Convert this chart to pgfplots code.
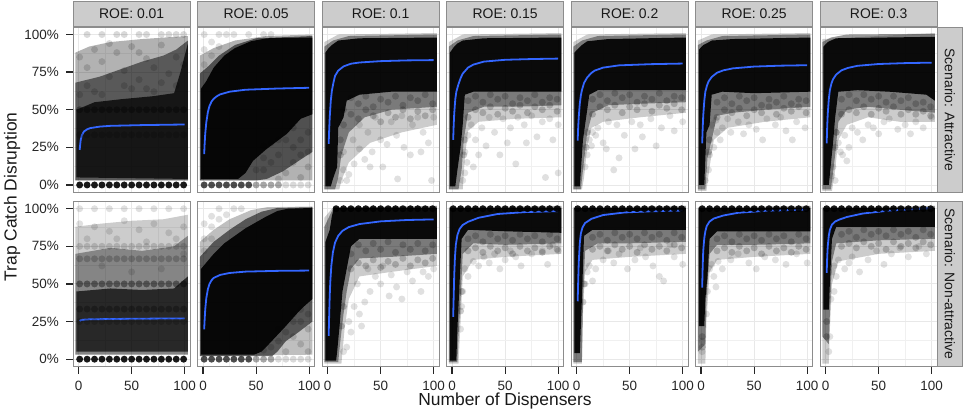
\documentclass[border=0pt]{standalone}
\usepackage{fontspec}
\setmainfont{Liberation Sans}
\setsansfont{Liberation Sans}
\usepackage{pgfplots}
\pgfplotsset{compat=1.18}
\definecolor{fitblue}{HTML}{3366FF}
\pgfplotsset{
  panel/.style={
    scale only axis, width=116.7bp, height=165.5bp,
    xmin=-5, xmax=105, ymin=-5, ymax=105,
    xtick={0,50,100}, ytick={0,25,50,75,100},
    minor xtick={25,75}, minor ytick={12.5,37.5,62.5,87.5},
    xmajorgrids, ymajorgrids, xminorgrids, yminorgrids,
    major grid style={draw=black!9, line width=0.9bp},
    minor grid style={draw=black!6, line width=0.6bp},
    minor tick length=0pt, major tick length=7bp, tick align=outside,
    major tick style={draw=black!85, line width=1.3bp},
    axis line style={draw=black!45, line width=0.9bp},
    xticklabels={}, yticklabels={},
    xmajorticks=false, ymajorticks=false,
    tick label style={font=\fontsize{13.5}{15}\selectfont, text=black!85},
    yticklabel style={xshift=-4bp},
    xticklabel style={yshift=-3.5bp},
    /pgf/number format/assume math mode=true,
    anchor=south west,
  },
  leftax/.style={ymajorticks=true, ytick pos=left, yticklabels={0\%,25\%,50\%,75\%,100\%}},
  bottomax/.style={xmajorticks=true, xtick pos=bottom, xticklabels={0,50,100}},
  L/.style={draw=none, fill=black, fill opacity=#1},
  P/.style={only marks, mark=*, mark size=3.5pt, draw opacity=0, mark options={draw opacity=0, fill=black, fill opacity=#1}},
  fit/.style={color=fitblue, line width=1.8bp, no marks, line join=round},
}
\tikzset{strip/.style={fill=black!20, draw=black!45, line width=0.9bp, inner sep=0pt, font=\fontsize{14}{16}\selectfont, text=black!90}}
\begin{document}
\begin{tikzpicture}
\useasboundingbox (0,0) rectangle (964bp,418bp);
% ---------------- Row 1: Attractive ----------------
\begin{axis}[panel, leftax, name=a1, at={(73.3bp,225.5bp)}]
\addplot[L=0.3] coordinates {(-3,3)(-3,88)(10,92)(30,95)(60,97)(103,99)(103,3)} -- cycle;
\addplot[L=0.5] coordinates {(-3,3)(-3,68)(20,72)(40,77)(60,82)(80,86)(92,90)(103,96)(103,3)} -- cycle;
\addplot[L=0.75] coordinates {(-2,5)(-2,50)(15,55)(40,57)(70,59)(90,61)(96,75)(103,94)(103,4)} -- cycle;
\addplot[P=0.15] coordinates {(1,85)(8,78)(15,90)(22,82)(29,72)(36,88)(43,76)(50,92)(57,70)(64,84)(71,78)(78,93)(85,74)(92,85)(99,80)(8,66)(29,94)(57,88)(78,68)(43,66)(15,62)(64,64)(1,60)(22,60)(50,64)(71,62)(92,66)};
\addplot[P=0.15] coordinates {(8,100)(22,100)(36,100)(43,100)(57,100)(64,100)(78,100)(85,100)(92,100)(99,100)};
\addplot[P=0.2] coordinates {(1,33.3)(8,33.3)(15,33.3)(22,33.3)(29,33.3)(36,33.3)(43,33.3)(50,33.3)(57,33.3)(64,33.3)(71,33.3)(78,33.3)(85,33.3)(92,33.3)(99,33.3)};
\addplot[P=0.35] coordinates {(1,50)(8,50)(15,50)(22,50)(29,50)(36,50)(43,50)(50,50)(57,50)(64,50)(71,50)(78,50)(85,50)(92,50)(99,50)};
\addplot[P=0.9] coordinates {(1,0)(8,0)(15,0)(22,0)(29,0)(36,0)(43,0)(50,0)(57,0)(64,0)(71,0)(78,0)(85,0)(92,0)(99,0)};
\addplot[fit] coordinates {(1,23.3)(1.5,27)(2,30)(3,33)(5,35.5)(8,37)(11,37.8)(20,38.8)(30,39.3)(60,39.8)(100,40.2)};
\end{axis}
\begin{axis}[panel, name=a2, at={(197.8bp,225.5bp)}]
\addplot[L=0.3] coordinates {(-3,3)(-3,86)(10,91)(30,96)(60,99)(103,100)(103,3)} -- cycle;
\addplot[L=0.55] coordinates {(-3,3)(-3,74)(5,79)(15,86)(30,93)(50,97.5)(103,99)(103,22)(90,16)(75,9)(60,4)(50,3)} -- cycle;
\addplot[L=0.92] coordinates {(-2,4)(-2,64)(3,69)(10,78)(20,86)(30,91)(45,95.5)(60,97.5)(103,98)(103,47)(92,44)(79,34)(60,24)(47,16)(40,8)(33,4)} -- cycle;
\addplot[P=0.15] coordinates {(57,10)(64,15)(71,20)(78,8)(85,25)(92,30)(99,12)(71,4)(85,15)(92,5)(64,28)(78,30)(99,35)(57,18)(50,10)(99,22)(92,20)(85,38)(71,30)(57,26)};
\addplot[P=0.12] coordinates {(1,90)(8,95)(15,100)(22,100)(29,100)(1,100)(8,86)(43,100)(57,100)(64,100)(1,80)(15,92)};
\addplot[P=0.7] coordinates {(1,0)(8,0)(15,0)(22,0)(29,0)(36,0)(43,0)};
\addplot[P=0.35] coordinates {(50,0)(57,0)(64,0)(71,0)};
\addplot[P=0.15] coordinates {(78,0)(85,0)(92,0)(99,0)};
\addplot[fit] coordinates {(1,20.5)(1.5,28)(2,34)(3,41.5)(4.5,48.5)(6,52.5)(8,55.5)(10,57.3)(13,59)(16,60.2)(25,62)(40,63.3)(70,64.1)(100,64.6)};
\end{axis}
\begin{axis}[panel, name=a3, at={(322.3bp,225.5bp)}]
\addplot[L=0.2] coordinates {(-3,-3)(-3,95)(10,100)(103,101)(103,40)(70,35)(40,28)(20,15)(13,3)(11,-3)} -- cycle;
\addplot[L=0.4] coordinates {(-3,-3)(-3,92)(5,96)(20,99)(103,100)(103,52)(60,50)(35,45)(20,35)(13,20)(10,5)(7,-3)} -- cycle;
\addplot[L=0.92] coordinates {(-2,-1)(-2,88)(1,91)(4,93)(10,96)(30,97.5)(103,98)(103,62)(60,62)(30,60)(18,56)(15,45)(10,38)(9,12)(5,4)(3,-1)} -- cycle;
\addplot[P=0.2] coordinates {(15,50)(22,58)(29,54)(36,59)(43,52)(50,57)(57,55)(64,59)(71,53)(78,58)(85,56)(92,60)(99,54)(15,40)(22,47)(29,44)(36,50)(43,46)(50,42)(57,48)(64,45)(71,50)(78,44)(85,49)(92,46)(99,50)(12,30)(12,20)};
\addplot[P=0.12] coordinates {(15,10)(20,7)(25,14)(15,22)(35,17)(42,22)(50,30)(56,27)(65,33)(72,25)(80,40)(90,35)(95,28)(100,45)(30,40)(45,45)(60,42)(85,45)(78,20)(66,4)(98,3)(24,30)(38,35)(52,12)(88,22)(12,3)(18,3)(30,24)(70,46)(40,12)};
\addplot[fit] coordinates {(1,27.3)(1.5,37)(2,45)(3,56)(4,62.5)(5.5,68)(7,72.5)(10,76)(15,78.8)(22,80.6)(30,81.4)(50,82.3)(75,82.8)(100,83)};
\end{axis}
\begin{axis}[panel, name=a4, at={(446.8bp,225.5bp)}]
\addplot[L=0.2] coordinates {(-3,-3)(-3,95)(10,100)(103,101)(103,45)(60,44)(25,42)(15,36)(12,18)(10,-3)} -- cycle;
\addplot[L=0.4] coordinates {(-3,-3)(-3,92)(5,96)(20,99)(103,100)(103,53)(60,52)(30,52)(15,48)(11,30)(9,10)(6,-3)} -- cycle;
\addplot[L=0.92] coordinates {(-2,-1)(-2,88)(2,92)(5,94)(10,96)(30,97.5)(103,98)(103,62)(50,62)(20,62)(12,60)(10,40)(8,25)(5,10)(3,-1)} -- cycle;
\addplot[P=0.2] coordinates {(15,56)(22,59)(29,55)(36,60)(43,57)(50,59)(57,54)(64,58)(71,56)(78,60)(85,55)(92,58)(99,57)(15,45)(22,50)(29,48)(36,52)(43,47)(50,51)(57,49)(64,53)(71,48)(78,52)(85,50)(92,53)(99,49)(12,30)(11,20)};
\addplot[P=0.12] coordinates {(15,33)(18,40)(22,30)(28,38)(35,45)(40,35)(48,44)(55,38)(62,45)(68,40)(75,46)(85,42)(92,44)(100,40)(12,22)(14,15)(20,12)(25,20)(45,20)(60,14)(70,28)(32,26)(80,32)(95,30)(52,28)(10,3)(12,8)(88,5)(100,8)};
\addplot[fit] coordinates {(1,30)(1.5,40)(2,47.5)(3,57)(4,62)(6,67)(8,71)(10,74)(15,78)(20,80)(30,82)(50,83.2)(75,83.7)(100,84)};
\end{axis}
\begin{axis}[panel, name=a5, at={(571.3bp,225.5bp)}]
\addplot[L=0.2] coordinates {(-3,-3)(-3,95)(10,100)(103,101)(103,48)(60,45)(25,42)(14,38)(10,25)(7,5)(5,-3)} -- cycle;
\addplot[L=0.4] coordinates {(-3,-3)(-3,92)(5,96)(20,99)(103,100)(103,55)(60,54)(30,53)(15,48)(10,35)(6,10)(4,-3)} -- cycle;
\addplot[L=0.92] coordinates {(-2,-1)(-2,88)(2,91)(5,93)(10,95.5)(30,97)(103,98)(103,63)(50,63)(20,63)(12,60)(9,45)(6,30)(3,-1)} -- cycle;
\addplot[P=0.2] coordinates {(15,57)(22,60)(29,56)(36,61)(43,58)(50,60)(57,55)(64,59)(71,57)(78,61)(85,56)(92,59)(99,58)(15,47)(22,52)(29,50)(36,53)(43,48)(50,52)(57,50)(64,54)(71,49)(78,53)(85,51)(92,54)(99,50)(10,35)(9,25)};
\addplot[P=0.12] coordinates {(12,30)(15,35)(20,38)(30,42)(38,40)(45,33)(52,42)(60,40)(70,44)(80,38)(88,46)(100,42)(14,26)(25,28)(40,18)(35,10)(28,24)(18,33)(10,20)(8,12)(62,32)(92,36)(75,26)(55,24)};
\addplot[fit] coordinates {(1,29.5)(1.5,38.5)(2,45)(3,54)(4,59.5)(5,63)(7,67.8)(10,71.5)(14,74.5)(17,76)(25,78)(40,79.5)(70,80.3)(100,80.7)};
\end{axis}
\begin{axis}[panel, name=a6, at={(695.8bp,225.5bp)}]
\addplot[L=0.2] coordinates {(-3,-4)(-3,96)(10,100)(103,101)(103,45)(60,42)(25,38)(12,30)(8,12)(5,-4)} -- cycle;
\addplot[L=0.4] coordinates {(-3,-3)(-3,93)(5,96)(20,99)(103,100)(103,52)(60,50)(30,48)(15,46)(10,30)(6,18)(4,-3)} -- cycle;
\addplot[L=0.92] coordinates {(-2,0)(-2,90)(2,93)(5,94)(10,96)(30,97)(103,98)(103,62)(50,61)(20,62)(10,60)(8,40)(5,35)(3,0)} -- cycle;
\addplot[P=0.2] coordinates {(15,55)(22,58)(29,54)(36,59)(43,56)(50,58)(57,53)(64,57)(71,55)(78,59)(85,54)(92,57)(99,56)(15,45)(22,50)(29,48)(36,51)(43,46)(50,50)(57,48)(64,52)(71,47)(78,51)(85,49)(92,52)(99,48)(8,30)(7,22)};
\addplot[P=0.12] coordinates {(10,40)(14,43)(20,38)(28,35)(35,42)(45,40)(52,37)(62,44)(70,40)(80,36)(90,42)(98,38)(12,25)(18,30)(8,20)(7,10)(4,3)(25,44)(40,34)(58,30)(75,45)(86,30)(15,35)};
\addplot[fit] coordinates {(1,27.7)(1.5,38)(2,46)(3,56)(4,62)(5.5,66)(7,68.8)(10,71.8)(15,74.6)(21,76.2)(30,77.5)(50,78.7)(75,79.3)(100,79.6)};
\end{axis}
\begin{axis}[panel, name=a7, at={(820.3bp,225.5bp)}]
\addplot[L=0.2] coordinates {(-3,-4)(-3,97)(103,101)(103,42)(70,42)(40,45)(20,40)(12,30)(9,10)(6,-4)} -- cycle;
\addplot[L=0.4] coordinates {(-3,-3)(-3,95)(5,98)(20,100)(103,100.5)(103,48)(70,50)(40,52)(20,50)(12,42)(9,20)(5,-3)} -- cycle;
\addplot[L=0.92] coordinates {(-2,0)(-2,92)(2,95)(5,96)(10,97.5)(103,98.5)(103,56)(95,60)(60,62)(30,63)(12,62)(9,45)(7,28)(3,0)} -- cycle;
\addplot[P=0.2] coordinates {(15,57)(22,60)(29,56)(36,60)(43,57)(50,59)(57,55)(64,59)(71,56)(78,58)(85,54)(92,55)(99,52)(15,47)(22,50)(29,48)(36,52)(43,47)(50,51)(57,49)(64,52)(71,47)(78,50)(85,47)(92,49)(99,46)(10,35)(9,25)};
\addplot[P=0.12] coordinates {(10,35)(12,28)(14,22)(16,20)(22,25)(18,33)(25,38)(30,35)(40,40)(45,38)(55,42)(60,44)(68,37)(75,40)(85,42)(92,38)(100,45)(7,12)(6,6)(9,3)(35,30)(50,34)(80,34)(20,16)};
\addplot[fit] coordinates {(1,27.7)(1.5,39)(2,47)(3,57)(4,63)(5.5,67.5)(7,70.3)(10,73.4)(15,76.2)(21,77.8)(30,79.2)(50,80.4)(75,81)(100,81.3)};
\end{axis}
% ---------------- Row 2: Non-attractive ----------------
\begin{axis}[panel, leftax, bottomax, name=b1, at={(73.3bp,51.3bp)}]
\addplot[L=0.2] coordinates {(-3,3)(-3,88)(20,90)(50,92)(80,93)(103,96)(103,3)} -- cycle;
\addplot[L=0.35] coordinates {(-3,3)(-3,70)(30,74)(60,72)(90,75)(103,82)(103,3)} -- cycle;
\addplot[L=0.7] coordinates {(-2,5)(-2,45)(30,47)(60,46)(90,47)(103,55)(103,5)} -- cycle;
\addplot[P=0.12] coordinates {(1,90)(15,88)(29,85)(43,92)(57,86)(71,90)(85,84)(99,88)(8,80)(36,80)(64,78)(92,80)(22,62)(50,58)(78,60)(99,70)};
\addplot[P=0.12] coordinates {(1,100)(15,100)(29,100)(43,100)(57,100)(71,100)(85,100)(99,100)};
\addplot[P=0.15] coordinates {(1,75)(8,75)(15,75)(22,75)(29,75)(36,75)(43,75)(50,75)(57,75)(64,75)(71,75)(78,75)(85,75)(92,75)(99,75)};
\addplot[P=0.2] coordinates {(1,66.7)(8,66.7)(15,66.7)(22,66.7)(29,66.7)(36,66.7)(43,66.7)(50,66.7)(57,66.7)(64,66.7)(71,66.7)(78,66.7)(85,66.7)(92,66.7)(99,66.7)};
\addplot[P=0.2] coordinates {(1,25)(8,25)(15,25)(22,25)(29,25)(36,25)(43,25)(50,25)(57,25)(64,25)(71,25)(78,25)(85,25)(92,25)(99,25)};
\addplot[P=0.3] coordinates {(1,33.3)(8,33.3)(15,33.3)(22,33.3)(29,33.3)(36,33.3)(43,33.3)(50,33.3)(57,33.3)(64,33.3)(71,33.3)(78,33.3)(85,33.3)(92,33.3)(99,33.3)};
\addplot[P=0.4] coordinates {(1,50)(8,50)(15,50)(22,50)(29,50)(36,50)(43,50)(50,50)(57,50)(64,50)(71,50)(78,50)(85,50)(92,50)(99,50)};
\addplot[P=0.9] coordinates {(1,0)(8,0)(15,0)(22,0)(29,0)(36,0)(43,0)(50,0)(57,0)(64,0)(71,0)(78,0)(85,0)(92,0)(99,0)};
\addplot[fit] coordinates {(1,25.4)(2,25.9)(4,26.2)(10,26.5)(30,26.7)(60,26.9)(100,27.1)};
\end{axis}
\begin{axis}[panel, bottomax, name=b2, at={(197.8bp,51.3bp)}]
\addplot[L=0.25] coordinates {(-3,2)(-3,78)(10,86)(25,93)(45,99)(60,101)(103,101.5)(103,3)} -- cycle;
\addplot[L=0.55] coordinates {(-3,2)(-3,68)(10,78)(25,86)(40,93)(55,98)(70,100.5)(103,101)(103,25)(90,18)(78,12)(70,5)(65,2)} -- cycle;
\addplot[L=0.92] coordinates {(-2,3)(-2,60)(10,70)(20,77)(30,82)(40,87)(50,91)(60,95)(70,98.5)(80,100)(103,100.5)(103,40)(95,35)(88,30)(78,22)(70,16)(62,10)(55,5)(48,3)} -- cycle;
\addplot[P=0.15] coordinates {(64,8)(71,12)(78,5)(85,15)(92,10)(99,20)(85,25)(99,30)(92,25)(78,18)(71,20)(57,6)(99,5)(92,33)(85,30)};
\addplot[P=0.12] coordinates {(1,80)(8,88)(15,93)(22,96)(1,90)(8,95)(29,100)(36,100)(15,100)(1,72)(8,80)};
\addplot[P=0.7] coordinates {(1,0)(8,0)(15,0)(22,0)(29,0)(36,0)(43,0)};
\addplot[P=0.35] coordinates {(50,0)(57,0)(64,0)};
\addplot[P=0.15] coordinates {(71,0)(78,0)(85,0)(92,0)(99,0)};
\addplot[fit] coordinates {(1,19.8)(1.5,27)(2,33)(3,40.5)(4.5,46.5)(6,50)(8,52.5)(10,54)(16,56)(25,57.3)(40,58.2)(70,58.7)(100,58.9)};
\end{axis}
\begin{axis}[panel, bottomax, name=b3, at={(322.3bp,51.3bp)}]
\addplot[L=0.2] coordinates {(-3,-3)(-3,94)(4,100)(103,102)(103,62)(60,58)(30,55)(20,40)(16,20)(13,-3)} -- cycle;
\addplot[L=0.4] coordinates {(-3,-2)(-3,88)(3,97)(6,101)(103,101.5)(103,70)(60,68)(30,67)(22,60)(18,45)(15,30)(12,12)(10,-2)} -- cycle;
\addplot[L=0.92] coordinates {(-2,-1)(-2,78)(2,86)(4,95)(6,100.5)(103,100.5)(103,80)(60,80)(30,80)(22,75)(18,60)(14,45)(11,20)(9,5)(8,-1)} -- cycle;
\addplot[P=0.2] coordinates {(22,70)(29,76)(36,72)(43,77)(50,73)(57,78)(64,71)(71,76)(78,73)(85,77)(92,72)(99,76)(22,60)(29,64)(36,62)(43,66)(50,61)(57,65)(64,63)(71,67)(78,62)(85,66)(92,64)(99,67)(15,35)(13,22)};
\addplot[P=0.12] coordinates {(20,25)(22,18)(25,35)(30,30)(35,38)(40,45)(45,55)(50,50)(58,42)(65,48)(70,40)(80,52)(88,45)(95,55)(100,60)(28,50)(32,22)(18,8)(15,5)(60,56)(75,58)(90,58)(38,60)(52,62)};
\addplot[P=0.9] coordinates {(8,100)(15,100)(22,100)(29,100)(36,100)(43,100)(50,100)(57,100)(64,100)(71,100)(78,100)(85,100)(92,100)(99,100)};
\addplot[fit] coordinates {(1,15.5)(1.5,30)(2,42)(2.5,51)(3.5,62)(5,71)(7,77.5)(10,82)(14,85.3)(20,87.8)(30,89.8)(50,91.6)(75,92.5)(100,92.9)};
\end{axis}
\begin{axis}[panel, bottomax, name=b4, at={(446.8bp,51.3bp)}]
\addplot[L=0.2] coordinates {(-3,-3)(-3,101)(103,102)(103,70)(50,68)(20,66)(10,55)(8,25)(6,-3)} -- cycle;
\addplot[L=0.4] coordinates {(-3,-2)(-3,100)(103,101.5)(103,77)(50,76)(20,77)(10,70)(8,40)(6,15)(5,-2)} -- cycle;
\addplot[L=0.92] coordinates {(-2,-1)(-2,100.5)(103,100.5)(103,84)(50,85)(15,86)(9,80)(7,50)(5,20)(4,-1)} -- cycle;
\addplot[P=0.2] coordinates {(15,80)(22,82)(29,78)(36,83)(43,80)(50,82)(57,79)(64,83)(71,80)(78,82)(85,78)(92,83)(99,80)(15,72)(22,74)(29,71)(36,75)(43,72)(50,74)(57,70)(64,75)(71,72)(78,74)(85,71)(92,75)(99,73)(9,45)(8,32)};
\addplot[P=0.12] coordinates {(12,60)(15,55)(20,65)(25,62)(30,68)(35,64)(40,70)(50,66)(55,72)(60,68)(65,62)(75,70)(90,63)(100,72)(45,60)(10,45)(9,35)(8,20)(85,72)(95,76)};
\addplot[P=0.9] coordinates {(1,100)(8,100)(15,100)(22,100)(29,100)(36,100)(43,100)(50,100)(57,100)(64,100)(71,100)(78,100)(85,100)(92,100)(99,100)};
\addplot[fit] coordinates {(1,28.1)(1.5,42)(2,56)(2.7,68)(3.5,76)(5,82.5)(7,86.5)(10,89.2)(15,91.3)(25,94)(43,96.5)(70,97.8)(100,98.4)};
\end{axis}
\begin{axis}[panel, bottomax, name=b5, at={(571.3bp,51.3bp)}]
\addplot[L=0.2] coordinates {(-3,-3)(-3,101)(103,102)(103,70)(50,68)(15,66)(8,58)(6,30)(5,-3)} -- cycle;
\addplot[L=0.4] coordinates {(-3,-2)(-3,100)(103,101.5)(103,78)(50,77)(20,77)(8,72)(6,40)(5,-2)} -- cycle;
\addplot[L=0.92] coordinates {(-2,4)(-2,100.5)(103,100.5)(103,86)(50,86)(15,86)(7,82)(5,40)(3,4)} -- cycle;
\addplot[P=0.2] coordinates {(15,81)(22,83)(29,79)(36,84)(43,81)(50,83)(57,80)(64,84)(71,81)(78,83)(85,79)(92,84)(99,81)(15,73)(22,75)(29,72)(36,76)(43,73)(50,75)(57,71)(64,76)(71,73)(78,75)(85,72)(92,76)(99,74)(7,50)(6,38)};
\addplot[P=0.12] coordinates {(10,58)(12,62)(15,52)(18,60)(25,66)(35,64)(40,70)(48,60)(55,66)(65,68)(72,62)(78,55)(82,52)(92,68)(100,63)(8,50)(30,72)(60,74)(88,76)};
\addplot[P=0.9] coordinates {(1,100)(8,100)(15,100)(22,100)(29,100)(36,100)(43,100)(50,100)(57,100)(64,100)(71,100)(78,100)(85,100)(92,100)(99,100)};
\addplot[fit] coordinates {(1,38.5)(1.5,52)(2,64)(3,77)(4,83.5)(5.5,87.5)(8,90.5)(14,93.3)(25,95.8)(45,97.5)(70,98.3)(100,98.8)};
\end{axis}
\begin{axis}[panel, bottomax, name=b6, at={(695.8bp,51.3bp)}]
\addplot[L=0.2] coordinates {(-3,-3)(-3,101)(103,102)(103,70)(50,68)(15,66)(8,58)(5,25)(4,-3)} -- cycle;
\addplot[L=0.4] coordinates {(-3,5)(-3,100)(103,101.5)(103,77)(50,76)(15,76)(8,70)(5,40)(4,10)} -- cycle;
\addplot[L=0.92] coordinates {(-2,22)(-2,100.5)(103,100.5)(103,85)(50,85)(15,85)(8,80)(6,55)(4,40)(3,22)} -- cycle;
\addplot[P=0.2] coordinates {(15,80)(22,82)(29,78)(36,83)(43,80)(50,82)(57,79)(64,83)(71,80)(78,82)(85,78)(92,83)(99,80)(15,72)(22,74)(29,71)(36,75)(43,72)(50,74)(57,70)(64,75)(71,72)(78,74)(85,71)(92,75)(99,73)(1,15)(1,8)};
\addplot[P=0.12] coordinates {(8,60)(10,63)(12,55)(16,65)(20,60)(28,66)(35,70)(45,64)(52,60)(60,68)(70,66)(80,63)(90,70)(100,64)(14,48)(6,45)(5,30)(1,5)(1,12)};
\addplot[P=0.9] coordinates {(1,100)(8,100)(15,100)(22,100)(29,100)(36,100)(43,100)(50,100)(57,100)(64,100)(71,100)(78,100)(85,100)(92,100)(99,100)};
\addplot[fit] coordinates {(1,47.6)(1.5,62)(2,72)(3,80.5)(4,85)(5.3,88.5)(8,91.5)(12,93.5)(21,95.5)(35,97.3)(60,98.6)(100,99.5)};
\end{axis}
\begin{axis}[panel, bottomax, name=b7, at={(820.3bp,51.3bp)}]
\addplot[L=0.2] coordinates {(-3,-3)(-3,101)(103,102)(103,72)(50,70)(12,65)(6,50)(4,20)(3,-3)} -- cycle;
\addplot[L=0.4] coordinates {(-3,15)(-3,100)(103,101.5)(103,80)(50,79)(10,77)(6,65)(4,30)(3,10)} -- cycle;
\addplot[L=0.92] coordinates {(-2,33)(-2,100.5)(103,100.5)(103,88)(50,88)(10,88)(6,80)(4,50)(3,33)} -- cycle;
\addplot[P=0.2] coordinates {(15,83)(22,85)(29,81)(36,86)(43,83)(50,85)(57,82)(64,86)(71,83)(78,85)(85,81)(92,86)(99,83)(15,75)(22,77)(29,74)(36,78)(43,75)(50,77)(57,73)(64,78)(71,75)(78,77)(85,74)(92,78)(99,76)(1,25)(1,15)};
\addplot[P=0.12] coordinates {(6,58)(8,62)(10,55)(12,66)(18,60)(22,64)(25,68)(32,58)(40,66)(48,72)(55,63)(62,70)(70,74)(78,68)(88,75)(95,70)(8,45)(5,40)(4,15)(3,5)};
\addplot[P=0.9] coordinates {(1,100)(8,100)(15,100)(22,100)(29,100)(36,100)(43,100)(50,100)(57,100)(64,100)(71,100)(78,100)(85,100)(92,100)(99,100)};
\addplot[fit] coordinates {(1,57.3)(1.5,68)(2,75)(3,82)(4,86)(6,89.5)(9,91.5)(13,92.8)(20,94.5)(35,96.8)(60,98.8)(100,100.4)};
\end{axis}
% ---------------- strips ----------------
\node[strip, minimum width=116.7bp, minimum height=25bp, anchor=south] at (a1.north) {ROE: 0.01};
\node[strip, minimum width=116.7bp, minimum height=25bp, anchor=south] at (a2.north) {ROE: 0.05};
\node[strip, minimum width=116.7bp, minimum height=25bp, anchor=south] at (a3.north) {ROE: 0.1};
\node[strip, minimum width=116.7bp, minimum height=25bp, anchor=south] at (a4.north) {ROE: 0.15};
\node[strip, minimum width=116.7bp, minimum height=25bp, anchor=south] at (a5.north) {ROE: 0.2};
\node[strip, minimum width=116.7bp, minimum height=25bp, anchor=south] at (a6.north) {ROE: 0.25};
\node[strip, minimum width=116.7bp, minimum height=25bp, anchor=south] at (a7.north) {ROE: 0.3};
\node[strip, rotate=-90, minimum width=165.5bp, minimum height=25bp, anchor=south] at (a7.east) {Scenario: Attractive};
\node[strip, rotate=-90, minimum width=165.5bp, minimum height=25bp, anchor=south] at (b7.east) {Scenario: Non-attractive};
% ---------------- titles ----------------
\node[rotate=90, anchor=base, font=\fontsize{17.5}{20}\selectfont, text=black!90] at (16.5bp,221bp) {Trap Catch Disruption};
\node[anchor=base, font=\fontsize{17.5}{20}\selectfont, text=black!90] at (505bp,13bp) {Number of Dispensers};
\end{tikzpicture}
\end{document}
